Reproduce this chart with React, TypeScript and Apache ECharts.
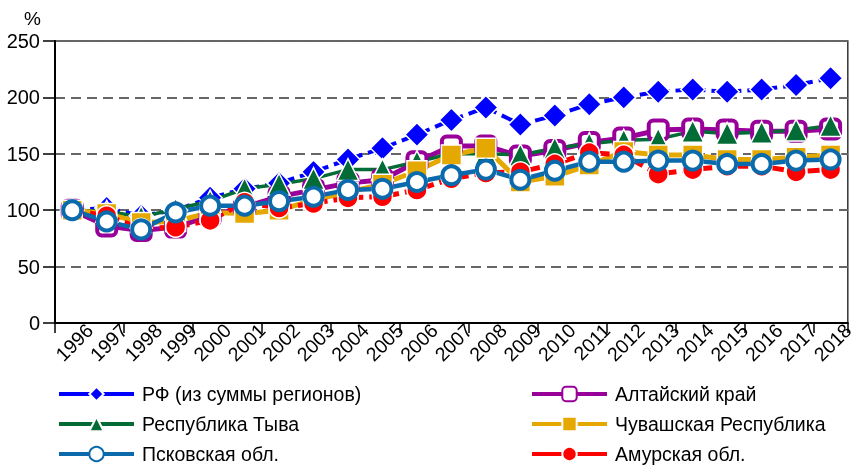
import React, { useEffect, useRef } from "react";
import * as echarts from "echarts";

const years = ["1996","1997","1998","1999","2000","2001","2002","2003","2004","2005","2006","2007","2008","2009","2010","2011","2012","2013","2014","2015","2016","2017","2018"];
const yTicks = [0, 50, 100, 150, 200, 250];

const rf = [100, 102, 95, 100, 111, 119, 124, 134, 145, 155, 167, 180, 191, 176, 184, 194, 200, 205, 207, 205, 207, 211, 217];
const altai = [100, 86, 82, 85, 95, 103, 112, 118, 124, 127, 143, 157, 157, 148, 153, 160, 164, 171, 172, 171, 170, 170, 172];
const tyva = [100, 99, 94, 101, 108, 119, 123, 128, 136, 136, 143, 150, 150, 149, 155, 159, 162, 163, 170, 168, 169, 171, 175];
const chuvash = [100, 97, 89, 90, 98, 97, 100, 109, 116, 123, 135, 149, 155, 125, 130, 140, 152, 149, 149, 145, 145, 147, 149];
const pskov = [100, 90, 83, 98, 104, 104, 108, 112, 118, 119, 125, 131, 136, 127, 135, 143, 143, 144, 144, 141, 141, 144, 145];
const amur = [100, 95, 84, 85, 91, 107, 102, 106, 111, 112, 118, 128, 133, 134, 141, 151, 149, 132, 136, 139, 139, 134, 136];

const names = {
  rf: "РФ (из суммы регионов)",
  altai: "Алтайский край",
  tyva: "Республика Тыва",
  chuvash: "Чувашская Республика",
  pskov: "Псковская обл.",
  amur: "Амурская обл.",
};

const FONT = "Liberation Sans, Arial, sans-serif";

export default function App() {
  const ref = useRef<HTMLDivElement>(null);
  useEffect(() => {
    const chart = echarts.init(ref.current!, undefined, { renderer: "svg" });
    const leg = (name: string, left: number, top: number) => ({
      orient: "horizontal" as const,
      left,
      top,
      itemWidth: 75,
      itemHeight: 18,
      padding: 0,
      lineStyle: { type: "solid", width: 4 },
      textStyle: { fontSize: 19.5, color: "#000", fontFamily: FONT, padding: [0, 0, 0, 3] },
      selectedMode: false,
      data: [name],
    });
    const base = { type: "line" as const, showAllSymbol: true, showSymbol: true };
    chart.setOption({
      animation: false,
      textStyle: { fontFamily: FONT },
      grid: { left: 55, right: 3, top: 41, bottom: 142, show: true, borderColor: "#333", borderWidth: 1.5 },
      graphic: [
        { type: "text", left: 24, top: 9, style: { text: "%", fontSize: 19, fill: "#000", fontFamily: FONT } },
      ],
      legend: [
        leg(names.rf, 57, 384),
        leg(names.tyva, 57, 414),
        leg(names.pskov, 57, 444),
        leg(names.altai, 530, 384),
        leg(names.chuvash, 530, 414),
        leg(names.amur, 530, 444),
      ],
      xAxis: [
        {
          type: "category",
          data: years,
          boundaryGap: true,
          axisLine: { lineStyle: { color: "#000", width: 2 } },
          axisTick: { show: true, length: 10, lineStyle: { color: "#000", width: 1.5 } },
          axisLabel: { show: false },
        },
        {
          type: "category",
          position: "bottom",
          data: ["", ...years],
          boundaryGap: false,
          axisLine: { show: false },
          axisTick: { show: false },
          axisLabel: { interval: 0, rotate: 45, fontSize: 19.5, color: "#000", margin: 4, fontFamily: FONT },
        },
      ],
      yAxis: {
        type: "value",
        min: yTicks[0],
        max: yTicks[yTicks.length - 1],
        interval: 50,
        axisLine: { show: true, lineStyle: { color: "#000", width: 2 } },
        axisTick: { show: true, length: 12, lineStyle: { color: "#000", width: 1.5 } },
        axisLabel: { fontSize: 20, color: "#000", margin: 15, fontFamily: FONT },
        splitLine: { show: true, lineStyle: { color: "#666", width: 2, type: [10, 6] } },
      },
      series: [
        {
          ...base, name: names.rf, data: rf, symbol: "diamond", symbolSize: 24,
          lineStyle: { color: "#0000FF", width: 4, type: [12, 6] },
          itemStyle: { color: "#0000FF", borderColor: "#fff", borderWidth: 1.5 },
        },
        {
          ...base, name: names.altai, data: altai, symbol: "roundRect", symbolSize: 19,
          lineStyle: { color: "#990099", width: 5 },
          itemStyle: { color: "#fff", borderColor: "#990099", borderWidth: 4 },
        },
        {
          ...base, name: names.tyva, data: tyva, symbol: "triangle", symbolSize: 22,
          lineStyle: { color: "#036B35", width: 3.5 },
          itemStyle: { color: "#036B35", borderColor: "#fff", borderWidth: 1.5 },
        },
        {
          ...base, name: names.chuvash, data: chuvash, symbol: "rect", symbolSize: 20,
          lineStyle: { color: "#E5A800", width: 5 },
          itemStyle: { color: "#E5A800", borderColor: "#fff", borderWidth: 1.5 },
        },
        {
          ...base, name: names.amur, data: amur, symbol: "circle", symbolSize: 20,
          lineStyle: { color: "#FF0000", width: 5, type: [12, 6] },
          itemStyle: { color: "#FF0000", borderColor: "#fff", borderWidth: 1.5 },
        },
        {
          ...base, name: names.pskov, data: pskov, symbol: "circle", symbolSize: 18,
          lineStyle: { color: "#0A6AAC", width: 4.5 },
          itemStyle: { color: "#fff", borderColor: "#0A6AAC", borderWidth: 4 },
        },
      ],
    });
    return () => chart.dispose();
  }, []);
  return <div ref={ref} style={{ position: "fixed", left: 0, top: 0, width: 857, height: 465 }} />;
}
